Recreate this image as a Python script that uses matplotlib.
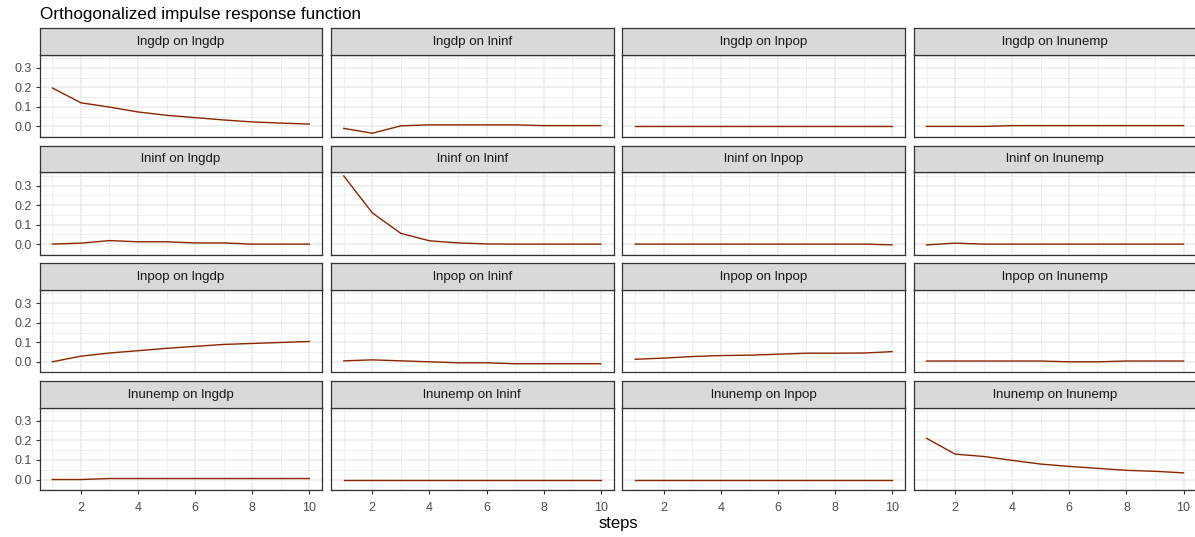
import matplotlib
matplotlib.use("Agg")
import matplotlib.pyplot as plt
import numpy as np

plt.rcParams['font.family'] = ['Liberation Sans', 'DejaVu Sans']

steps = [1, 2, 3, 4, 5, 6, 7, 8, 9, 10]
variables = ["lngdp", "lninf", "lnpop", "lnunemp"]

# responses[impulse][response]
lngdp_on_lngdp = [0.197, 0.121, 0.099, 0.074, 0.057, 0.045, 0.033, 0.023, 0.017, 0.012]
lngdp_on_lninf = [-0.010, -0.035, 0.003, 0.008, 0.008, 0.008, 0.008, 0.004, 0.004, 0.004]
lngdp_on_lnpop = [0.0, 0.0, 0.0, 0.0, 0.0, 0.0, 0.0, 0.0, 0.0, 0.0]
lngdp_on_lnunemp = [0.0, 0.0, 0.0, 0.004, 0.004, 0.004, 0.004, 0.004, 0.004, 0.004]

lninf_on_lngdp = [0.0, 0.005, 0.018, 0.012, 0.012, 0.006, 0.006, 0.0, 0.0, 0.0]
lninf_on_lninf = [0.349, 0.160, 0.055, 0.017, 0.006, 0.001, 0.0, 0.0, 0.0, 0.0]
lninf_on_lnpop = [0.0, 0.0, 0.0, 0.0, 0.0, 0.0, 0.0, 0.0, 0.0, -0.004]
lninf_on_lnunemp = [-0.004, 0.005, 0.0, 0.0, 0.0, 0.0, 0.0, 0.0, 0.0, 0.0]

lnpop_on_lngdp = [0.0, 0.029, 0.045, 0.057, 0.069, 0.079, 0.089, 0.094, 0.099, 0.104]
lnpop_on_lninf = [0.005, 0.010, 0.005, 0.0, -0.005, -0.005, -0.010, -0.010, -0.010, -0.010]
lnpop_on_lnpop = [0.013, 0.019, 0.027, 0.032, 0.034, 0.039, 0.044, 0.044, 0.045, 0.052]
lnpop_on_lnunemp = [0.004, 0.004, 0.004, 0.004, 0.004, 0.0, 0.0, 0.004, 0.004, 0.004]

lnunemp_on_lngdp = [0.0, 0.0, 0.005, 0.005, 0.005, 0.005, 0.005, 0.005, 0.005, 0.005]
lnunemp_on_lninf = [0.0, 0.0, 0.0, 0.0, 0.0, 0.0, 0.0, 0.0, 0.0, 0.0]
lnunemp_on_lnpop = [0.0, 0.0, 0.0, 0.0, 0.0, 0.0, 0.0, 0.0, 0.0, 0.0]
lnunemp_on_lnunemp = [0.211, 0.130, 0.118, 0.098, 0.079, 0.067, 0.057, 0.047, 0.042, 0.034]

panels = [
    [lngdp_on_lngdp, lngdp_on_lninf, lngdp_on_lnpop, lngdp_on_lnunemp],
    [lninf_on_lngdp, lninf_on_lninf, lninf_on_lnpop, lninf_on_lnunemp],
    [lnpop_on_lngdp, lnpop_on_lninf, lnpop_on_lnpop, lnpop_on_lnunemp],
    [lnunemp_on_lngdp, lnunemp_on_lninf, lnunemp_on_lnpop, lnunemp_on_lnunemp],
]

title = "Orthogonalized impulse response function"
xlabel = "steps"
x_major = [2, 4, 6, 8, 10]
x_minor = [1, 3, 5, 7, 9]
y_major = [0.0, 0.1, 0.2, 0.3]

W, H = 1195, 537
fig = plt.figure(figsize=(W / 100, H / 100), dpi=100)
fig.patch.set_facecolor("white")

allv = np.concatenate([np.array(v) for row in panels for v in row])
ymin, ymax = allv.min(), allv.max()
yr = ymax - ymin
ylim = (ymin - 0.05 * yr, ymax + 0.05 * yr)
y_minor = [-0.05, 0.05, 0.15, 0.25, 0.35]
xr = max(steps) - min(steps)
xlim = (min(steps) - 0.05 * xr, max(steps) + 0.05 * xr)

col_left = 39.5
col_pitch = 291.4
panel_w = 282.7
row_bottom0 = 137.0
row_pitch = 117.7
panel_h = 82.5
strip_h = 26.5

line_color = "#8B2500"
border = "#333333"
gridc = "#EBEBEB"

for r in range(4):
    for c in range(4):
        left = col_left + c * col_pitch
        bottom_px = row_bottom0 + r * row_pitch
        top_px = bottom_px - panel_h
        ax = fig.add_axes([left / W, 1 - bottom_px / H, panel_w / W, panel_h / H])
        ax.set_facecolor("white")
        ax.set_xlim(*xlim)
        ax.set_ylim(*ylim)
        for v in y_minor:
            ax.axhline(v, color=gridc, lw=0.55, zorder=0)
        for v in y_major:
            ax.axhline(v, color=gridc, lw=1.1, zorder=0)
        for v in x_minor:
            ax.axvline(v, color=gridc, lw=0.55, zorder=0)
        for v in x_major:
            ax.axvline(v, color=gridc, lw=1.1, zorder=0)
        ax.plot(steps, panels[r][c], color=line_color, lw=1.0, zorder=3)
        for s in ax.spines.values():
            s.set_color(border)
            s.set_linewidth(0.9)
            s.set_zorder(4)
        ax.set_xticks(x_major)
        ax.set_yticks(y_major)
        ax.tick_params(axis="both", length=2.6, width=0.8, color=border,
                       labelsize=9, labelcolor="#4D4D4D")
        ax.tick_params(axis="x", pad=6)
        ax.tick_params(axis="y", pad=3)
        if c == 0:
            ax.set_yticklabels([f"{v:.1f}" for v in y_major])
        else:
            ax.tick_params(axis="y", length=0, labelleft=False)
        if r == 3:
            ax.set_xticklabels([str(v) for v in x_major])
        else:
            ax.tick_params(axis="x", length=0, labelbottom=False)

        sax = fig.add_axes([left / W, 1 - top_px / H, panel_w / W, strip_h / H])
        sax.set_facecolor("#D9D9D9")
        sax.set_xticks([])
        sax.set_yticks([])
        for s in sax.spines.values():
            s.set_color(border)
            s.set_linewidth(0.9)
        sax.text(0.5, 0.48, f"{variables[r]} on {variables[c]}", transform=sax.transAxes,
                 ha="center", va="center", fontsize=9.6, color="#1A1A1A")

fig.text(40 / W, 1 - 19 / H, title, ha="left", va="baseline", fontsize=12.3, color="black")
fig.text(618 / W, 1 - 528 / H, xlabel, ha="center", va="baseline", fontsize=12, color="black")

fig.savefig("out.png", dpi=100, facecolor="white")
